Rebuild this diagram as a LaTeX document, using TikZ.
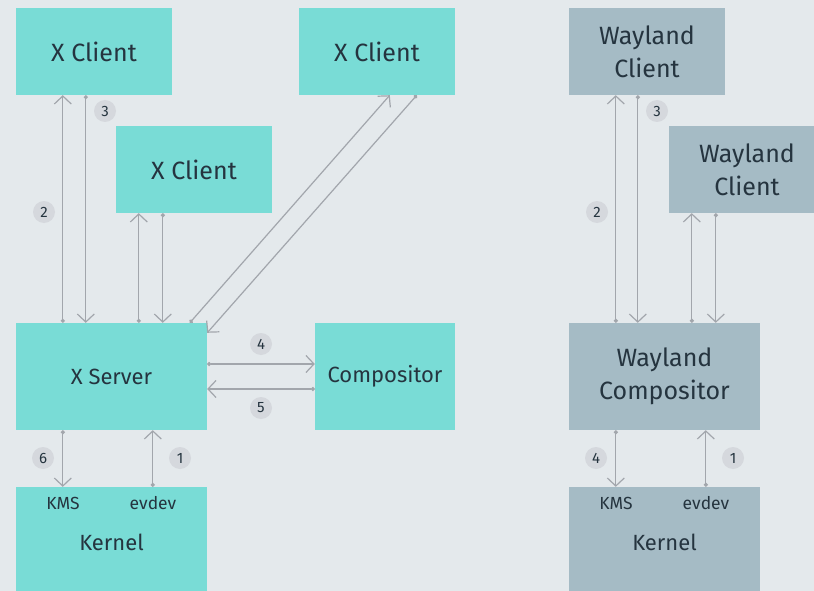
\documentclass[tikz,border=0pt]{standalone}
\usepackage{fontspec}
\setmainfont{Fira Sans}
\usetikzlibrary{arrows.meta}

\definecolor{bgcol}{HTML}{E4E9EC}
\definecolor{xcol}{HTML}{79DCD6}
\definecolor{wcol}{HTML}{A5BBC5}
\definecolor{inkcol}{HTML}{25343F}
\definecolor{linecol}{HTML}{A2A6AC}
\definecolor{numcol}{HTML}{D5D8DD}

\begin{document}
\begin{tikzpicture}[x=1pt,y=-1pt]

\tikzset{XBox/.style={fill=xcol,text=inkcol,inner sep=0pt,align=center,font={\fontsize{25}{33}\selectfont}},
  WBox/.style={XBox,fill=wcol},
  Small/.style={font={\fontsize{22}{33}\selectfont}},
  Tag/.style={text=inkcol,font={\fontsize{17.5}{20}\selectfont}},
  Num/.style={circle,fill=numcol,text=inkcol,inner sep=0pt,minimum size=22pt,font={\fontsize{15}{17}\selectfont}},
  Link/.style={draw=linecol,line width=1.2pt,{Circle[length=4pt]}-{Straight Barb[length=8pt,width=17pt,line width=1.2pt]}}}

  \fill[bgcol] (0,0) rectangle (814,591);
  \useasboundingbox (0,0) rectangle (814,591);

  \node[XBox,minimum width=156pt,minimum height=87pt] (xc1) at (94,51.5) {X Client};
  \node[XBox,minimum width=156pt,minimum height=87pt] (xc2) at (194,169.5) {X Client};
  \node[XBox,minimum width=156pt,minimum height=87pt] (xc3) at (377,51.5) {X Client};
  \node[XBox,Small,minimum width=191pt,minimum height=107pt] (xs) at (111.5,376.5) {X Server};
  \node[XBox,Small,minimum width=140pt,minimum height=107pt] (comp) at (385,376.5) {Compositor};
  \node[XBox,Small,minimum width=191pt,minimum height=110pt] (xk) at (111.5,542) {Kernel};
  \node[Tag] (xkms) at (63,503) {KMS};
  \node[Tag] (xev) at (153,503) {evdev};

  \node[WBox,minimum width=156pt,minimum height=87pt] (wc1) at (647,51.5) {Wayland\\Client};
  \node[WBox,minimum width=156pt,minimum height=87pt] (wc2) at (747,169.5) {Wayland\\Client};
  \node[WBox,minimum width=191pt,minimum height=107pt] (wcomp) at (664.5,376.5) {Wayland\\Compositor};
  \node[WBox,Small,minimum width=191pt,minimum height=110pt] (wk) at (664.5,542) {Kernel};
  \node[Tag] (wkms) at (616,503) {KMS};
  \node[Tag] (wev) at (706,503) {evdev};

  \draw[Link] ([xshift=47pt]xs.north west) -- ([xshift=47pt]xc1.south west);
  \draw[Link] ([xshift=70pt]xc1.south west) -- ([xshift=70pt]xs.north west);
  \draw[Link] ([xshift=123pt]xs.north west) -- ([xshift=23pt]xc2.south west);
  \draw[Link] ([xshift=47pt]xc2.south west) -- ([xshift=147pt]xs.north west);
  \draw[Link] ([xshift=174pt]xs.north west) -- ([xshift=91pt]xc3.south west);
  \draw[Link] ([xshift=118pt]xc3.south west) -- ([yshift=-10pt]xs.north east);
  \draw[Link] ([yshift=12.5pt]xs.east) -- ([yshift=12.5pt]comp.west);
  \draw[Link] ([yshift=-12.5pt]comp.west) -- ([yshift=-12.5pt]xs.east);
  \draw[Link] ([xshift=47pt]xs.south west) -- ([xshift=47pt]xk.north west);
  \draw[Link] ([xshift=137pt]xk.north west) -- ([xshift=137pt]xs.south west);

  \draw[Link] ([xshift=47pt]wcomp.north west) -- ([xshift=47pt]wc1.south west);
  \draw[Link] ([xshift=69pt]wc1.south west) -- ([xshift=69pt]wcomp.north west);
  \draw[Link] ([xshift=123pt]wcomp.north west) -- ([xshift=23pt]wc2.south west);
  \draw[Link] ([xshift=47pt]wc2.south west) -- ([xshift=147pt]wcomp.north west);
  \draw[Link] ([xshift=47pt]wcomp.south west) -- ([xshift=47pt]wk.north west);
  \draw[Link] ([xshift=137pt]wk.north west) -- ([xshift=137pt]wcomp.south west);

  \node[Num] (xn1) at (180,458) {1};
  \node[Num] (xn2) at (44,212) {2};
  \node[Num] (xn3) at (105,111) {3};
  \node[Num] (xn4) at (261,344) {4};
  \node[Num] (xn5) at (261,408) {5};
  \node[Num] (xn6) at (43,458) {6};

  \node[Num] (wn1) at (733,458) {1};
  \node[Num] (wn2) at (597,212) {2};
  \node[Num] (wn3) at (657,111) {3};
  \node[Num] (wn4) at (596,458) {4};

\end{tikzpicture}
\end{document}
